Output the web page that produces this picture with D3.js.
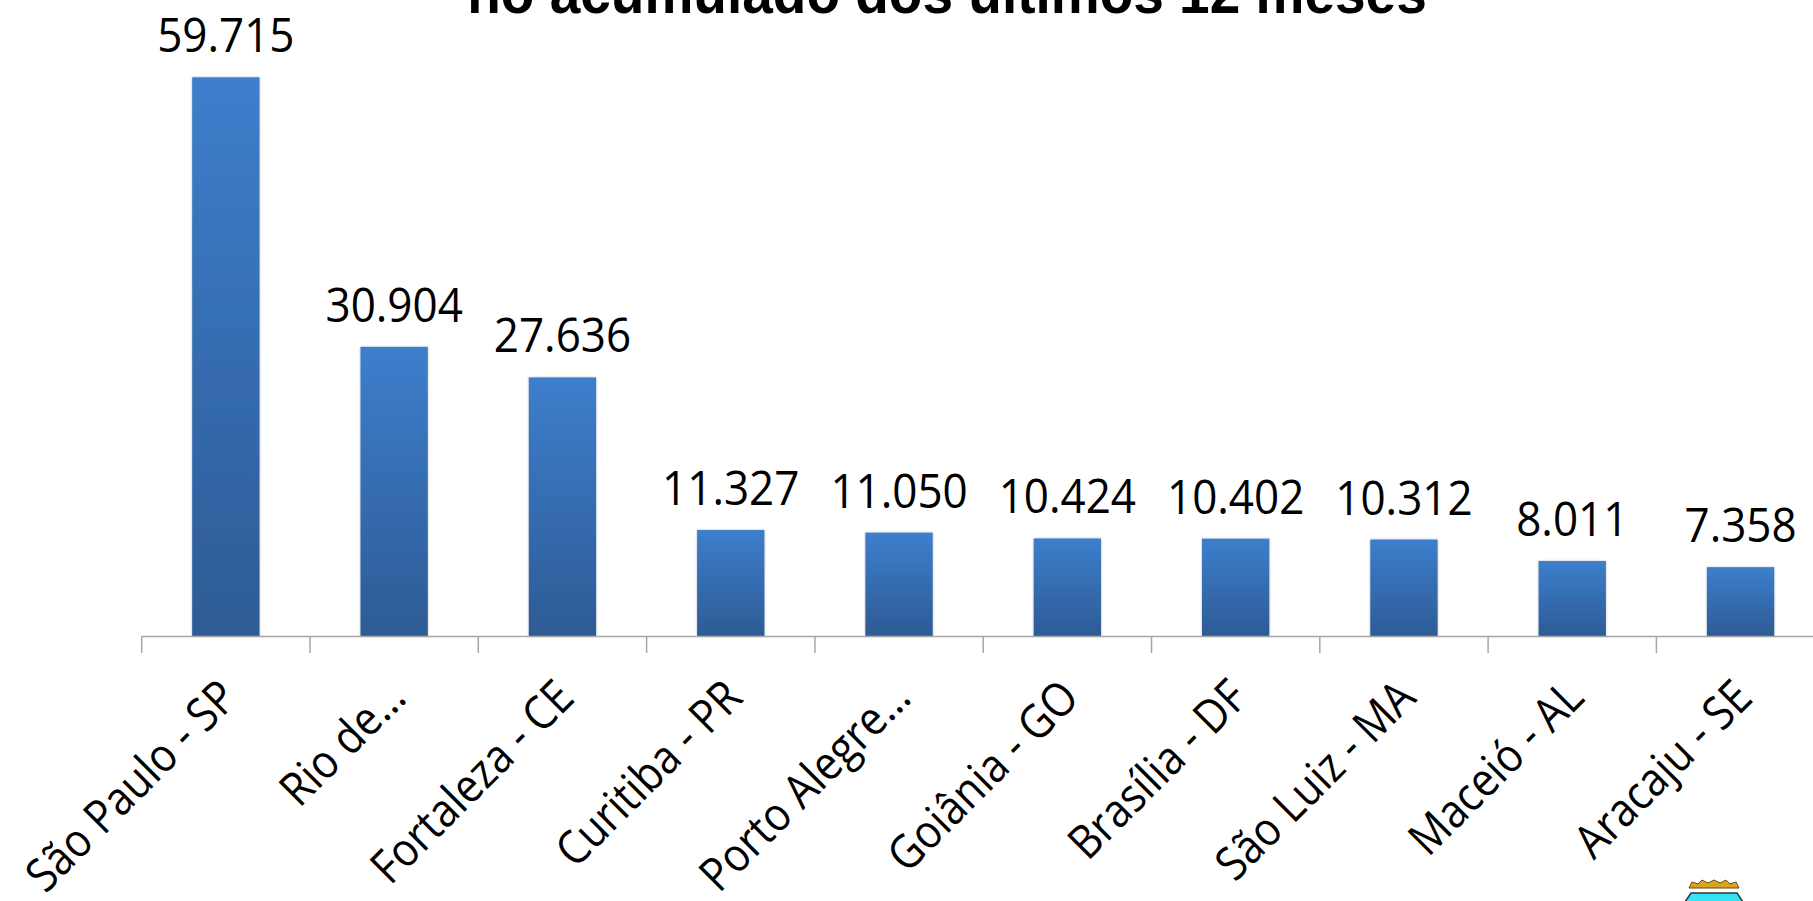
<!DOCTYPE html>
<html>
<head>
<meta charset="utf-8">
<script src="https://cdn.jsdelivr.net/npm/d3@7"></script>
<style>
  body { margin: 0; background: #fff; overflow: hidden; }
  svg { display: block; }
</style>
</head>
<body>
<svg id="chart" width="1813" height="901"></svg>
<script>
let cities = ['São Paulo - SP', 'Rio de…', 'Fortaleza - CE', 'Curitiba - PR', 'Porto Alegre…',
  'Goiânia - GO', 'Brasília - DF', 'São Luiz - MA', 'Maceió - AL', 'Aracaju - SE'];
let values = [59715, 30904, 27636, 11327, 11050, 10424, 10402, 10312, 8011, 7358];
let valueLabels = ['59.715', '30.904', '27.636', '11.327', '11.050', '10.424', '10.402', '10.312', '8.011', '7.358'];
let title = 'no acumulado dos últimos 12 meses';

let svg = d3.select('#chart');
let width = +svg.attr('width');

let axisY = 636;
let stepW = 168.3;
let x0 = 141.7;

let sx = d3.scaleBand()
  .domain(cities)
  .range([x0, x0 + stepW*cities.length])
  .paddingInner(0.6)
  .paddingOuter(0.3);

let sy = d3.scaleLinear()
  .domain([0, 70000])
  .range([axisY, axisY - 70000*558.7/59715]);

// bar gradient
let defs = svg.append('defs');
let grad = defs.append('linearGradient')
  .attr('id', 'barGrad')
  .attr('x1', 0).attr('y1', 0).attr('x2', 0).attr('y2', 1);
grad.append('stop').attr('offset', '0%').attr('stop-color', '#3d7ecc');
grad.append('stop').attr('offset', '100%').attr('stop-color', '#2d5b95');

let shadow = defs.append('filter').attr('id', 'shadow')
  .attr('x', '-10%').attr('y', '-10%').attr('width', '120%').attr('height', '120%');
shadow.append('feGaussianBlur').attr('in', 'SourceAlpha').attr('stdDeviation', 1.2);
shadow.append('feOffset').attr('dx', 0).attr('dy', 0).attr('result', 'b');
shadow.append('feComponentTransfer').append('feFuncA').attr('type', 'linear').attr('slope', 0.3);
let merge = shadow.append('feMerge');
merge.append('feMergeNode');
merge.append('feMergeNode').attr('in', 'SourceGraphic');

// title (mostly cut off at the top)
svg.append('text')
  .attr('transform', `translate(${947},${13}) scale(1,1.08)`)
  .attr('text-anchor', 'middle')
  .attr('font-family', '"Liberation Sans", Arial, sans-serif')
  .attr('font-weight', 'bold')
  .attr('font-size', 55)
  .attr('fill', '#000')
  .text(title);

// bars
svg.selectAll('.bar')
  .data(values)
  .enter()
  .append('rect')
  .attr('class', 'bar')
  .attr('x', (d,i)=>sx(cities[i]))
  .attr('y', d=>sy(d))
  .attr('width', sx.bandwidth())
  .attr('height', d=>axisY - sy(d))
  .attr('fill', 'url(#barGrad)')
  .attr('filter', 'url(#shadow)');

// value labels
svg.selectAll('.vlabel')
  .data(values)
  .enter()
  .append('text')
  .attr('class', 'vlabel')
  .attr('transform', (d,i)=>`translate(${sx(cities[i]) + sx.bandwidth()/2},${sy(d) - 25}) scale(1,1.08)`)
  .attr('text-anchor', 'middle')
  .attr('font-family', '"Open Sans", sans-serif')
  .attr('font-size', 44)
  .attr('fill', '#000')
  .text((d,i)=>valueLabels[i]);

// axis line + ticks at band boundaries
let gap = (sx.step() - sx.bandwidth())/2;
let bounds = cities.map(c=>sx(c) - gap);
bounds.push(sx(cities[cities.length-1]) + sx.bandwidth() + gap);

svg.append('line')
  .attr('x1', bounds[0]).attr('x2', width + 20)
  .attr('y1', axisY + 0.5).attr('y2', axisY + 0.5)
  .attr('stroke', '#a6a6a6').attr('stroke-width', 1.5);

svg.selectAll('.tick')
  .data(bounds)
  .enter()
  .append('line')
  .attr('class', 'tick')
  .attr('x1', d=>d).attr('x2', d=>d)
  .attr('y1', axisY).attr('y2', axisY + 17)
  .attr('stroke', '#a6a6a6').attr('stroke-width', 1.5);

// category labels, rotated
svg.selectAll('.clabel')
  .data(cities)
  .enter()
  .append('text')
  .attr('class', 'clabel')
  .attr('transform', d=>`translate(${sx(d) + sx.bandwidth()/2 + 14},${axisY + 64}) rotate(-45) scale(0.95,1.06)`)
  .attr('text-anchor', 'end')
  .attr('font-family', '"Open Sans", sans-serif')
  .attr('font-size', 44)
  .attr('fill', '#000')
  .text(d=>d);

// small crest at bottom right (cut off by the frame)
let crest = svg.append('g').attr('transform', 'translate(1714,880)');
crest.append('path')
  .attr('d', 'M-25,8 L-22,2 L-16,4 L-12,0 L-6,3 L0,0 L6,3 L12,0 L16,4 L22,2 L25,8 Z')
  .attr('fill', '#d9a520').attr('stroke', '#6b4a10').attr('stroke-width', 1);
crest.append('path')
  .attr('d', 'M-29,22 L-23,13 L23,13 L29,22')
  .attr('fill', '#36e2f6').attr('stroke', '#333').attr('stroke-width', 1.5);
</script>
</body>
</html>
